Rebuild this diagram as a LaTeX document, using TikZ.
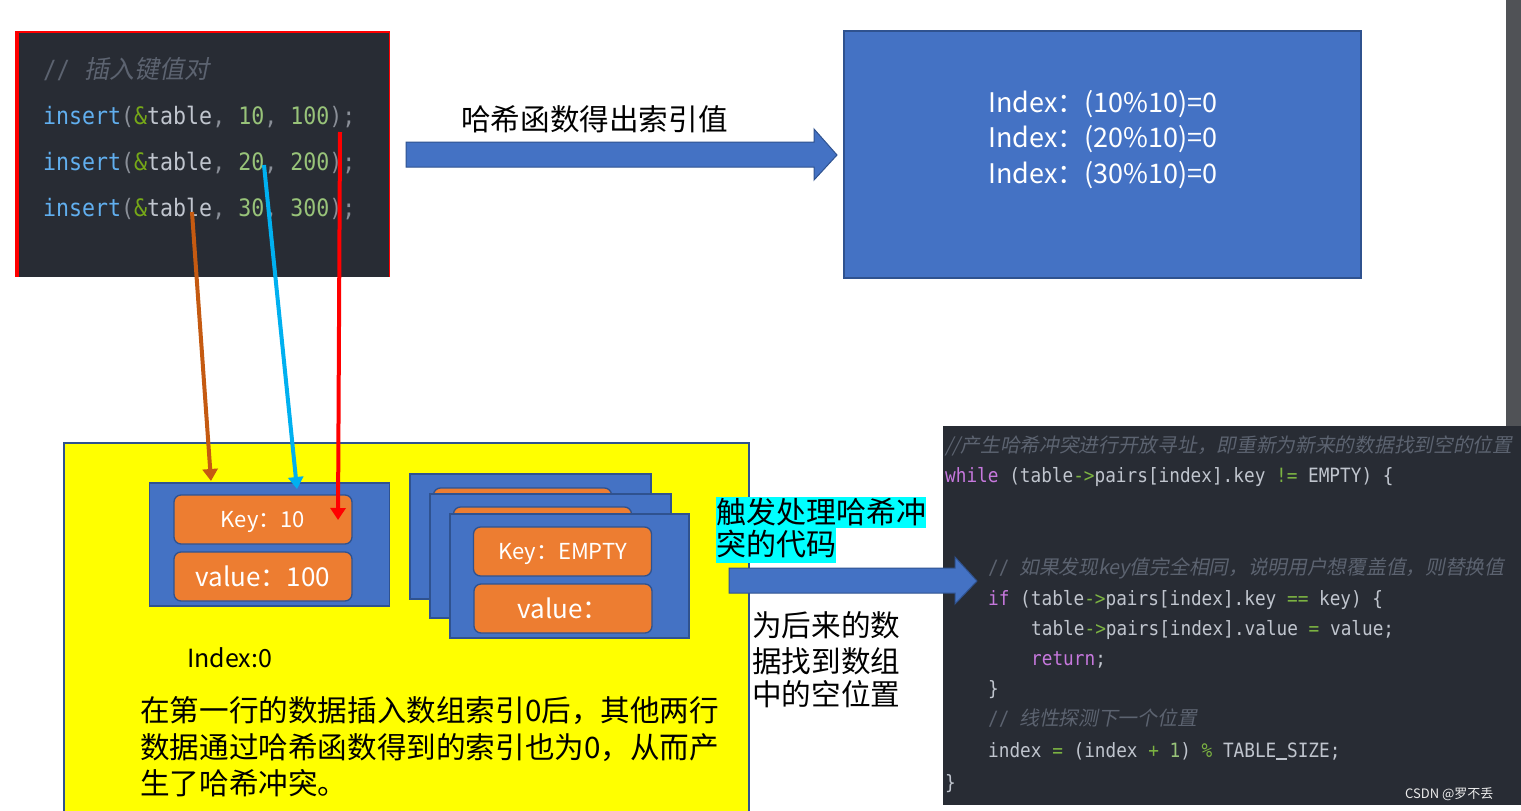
\documentclass[tikz,border=0pt]{standalone}
\usepackage{fontspec}
\setmainfont{Noto Sans CJK SC}
\newfontfamily\cjkit[FakeSlant=0.2]{Noto Sans CJK SC}
\newfontfamily\codemono[FakeStretch=0.9]{DejaVu Sans Mono}
\usetikzlibrary{arrows.meta}

\definecolor{boxblue}{HTML}{4472C4}
\definecolor{boxedge}{HTML}{2F528F}
\definecolor{cellorange}{HTML}{ED7D31}
\definecolor{codebg}{HTML}{282C34}
\definecolor{codecmt}{HTML}{5C6370}
\definecolor{codefn}{HTML}{61AFEF}
\definecolor{codetxt}{HTML}{C0C5CE}
\definecolor{codepun}{HTML}{8A8F98}
\definecolor{codenum}{HTML}{98C379}
\definecolor{codeamp}{HTML}{76A818}
\definecolor{codekw}{HTML}{C678DD}
\definecolor{codeop}{HTML}{7CB342}
\definecolor{arrorange}{HTML}{C55A11}
\definecolor{arrcyan}{HTML}{00B0F0}
\definecolor{scrollgray}{HTML}{505256}
\definecolor{padyellow}{HTML}{FFFF00}
\definecolor{markcyan}{HTML}{00FFFF}

\newcommand{\hcfn}[1]{\textcolor{codefn}{#1}}
\newcommand{\hcpun}[1]{\textcolor{codepun}{#1}}
\newcommand{\hcamp}[1]{\textcolor{codeamp}{#1}}
\newcommand{\hctxt}[1]{\textcolor{codetxt}{#1}}
\newcommand{\hcnum}[1]{\textcolor{codenum}{#1}}
\newcommand{\hckw}[1]{\textcolor{codekw}{#1}}
\newcommand{\hcop}[1]{\textcolor{codeop}{#1}}
\newcommand{\hcus}{\rule[-0.14em]{0.542em}{0.08em}}

\begin{document}
\begin{tikzpicture}[x=1pt, y=-1pt,
  txt/.style={inner sep=0pt, anchor=base west},
  blk/.style={fill=boxblue, draw=boxedge, line width=1.3pt, inner sep=0pt},
  cell/.style={fill=cellorange, draw=boxedge, line width=1.3pt, rounded corners=7pt,
    minimum width=178pt, minimum height=49pt, inner sep=0pt, text=white, text depth=0pt},
  keycell/.style={cell, font=\fontsize{22}{26}\selectfont, text height=16pt},
  valcell/.style={cell, font=\fontsize{26}{30}\selectfont, text height=19pt},
  fat/.style={fill=boxblue, draw=boxedge, line width=1pt},
  lnk/.style={line width=4pt, -{Triangle[length=12pt, width=15pt]}},
  topcode/.style={txt, font=\codemono\fontsize{24}{28}\selectfont},
  botcode/.style={txt, font=\codemono\fontsize{19.7}{24}\selectfont},
  cmt/.style={txt, text=codecmt, font=\cjkit\fontsize{19.7}{24}\selectfont},
  big/.style={txt, font=\fontsize{29.6}{36}\selectfont},
  idx/.style={inner sep=0pt, anchor=base, text=white, font=\fontsize{27}{32}\selectfont},
  hilite/.style={txt, fill=markcyan, inner xsep=0pt, font=\fontsize{30}{36}\selectfont}]

  \useasboundingbox (0,0) rectangle (1521,811);
  \fill[white] (0,0) rectangle (1521,811);
  \fill[scrollgray] (1506,0) rectangle (1521,426);

  % code that inserts the pairs
  \fill[codebg] (15,32) rectangle (390,277);
  \fill[red] (15,32) rectangle (19,277);
  \draw[red, line width=2pt] (15,32) -- (390,32);
  \draw[red, line width=1pt] (389.5,32) -- (389.5,277);
  \node[txt, text=codecmt, font=\cjkit\fontsize{25}{30}\selectfont] (inscmt) at (43,78) {{\codemono //}\hspace{0.55em}插入键值对};
  \node[topcode] (ins1) at (43,124) {\hcfn{insert}\hcpun{(}\hcamp{\&}\hctxt{table}\hcpun{, }\hcnum{10}\hcpun{, }\hcnum{100}\hcpun{);}};
  \node[topcode] (ins2) at (43,170) {\hcfn{insert}\hcpun{(}\hcamp{\&}\hctxt{table}\hcpun{, }\hcnum{20}\hcpun{, }\hcnum{200}\hcpun{);}};
  \node[topcode] (ins3) at (43,216) {\hcfn{insert}\hcpun{(}\hcamp{\&}\hctxt{table}\hcpun{, }\hcnum{30}\hcpun{, }\hcnum{300}\hcpun{);}};

  % hash function arrow and results
  \node[big] (hashlbl) at (461,130) {哈希函数得出索引值};
  \draw[fat] (406,142) -- (814,142) -- (814,129) -- (837,155) -- (814,180) -- (814,167) -- (406,167) -- cycle;
  \node[blk, minimum width=517pt, minimum height=247pt] (results) at (1102.5,154.5) {};
  \node[idx] (res1) at (1103,112) {Index：(10\%10)=0};
  \node[idx] (res2) at (1103,147.5) {Index：(20\%10)=0};
  \node[idx] (res3) at (1103,183) {Index：(30\%10)=0};

  % the array
  \draw[fill=padyellow, draw=boxedge, line width=1.2pt] (64,443) rectangle (749,820);
  \node[blk, minimum width=240pt, minimum height=123pt] (slot0) at (269.5,544.5) {};
  \node[keycell] (key10) at (263,519.5) {Key：10};
  \node[valcell] (val100) at (263,576.5) {value：100};

  \node[blk, minimum width=241pt, minimum height=125pt] (back) at (530.5,536.5) {};
  \node[cell] (backkey) at (522.5,512.5) {};
  \node[blk, minimum width=241pt, minimum height=124pt] (mid) at (550.5,556) {};
  \node[cell] (midkey) at (542.5,531.5) {};
  \node[blk, minimum width=239pt, minimum height=124pt] (front) at (569.5,576) {};
  \node[keycell] (keyempty) at (562.5,551.5) {Key：EMPTY};
  \node[valcell] (valempty) at (563,608.5) {value：};

  \node[txt, font=\fontsize{25}{30}\selectfont] (idx0) at (187,667) {Index:0};
  \node[big] (note1) at (140,721.5) {在第一行的数据插入数组索引0后，其他两行};
  \node[big] (note2) at (140,758.5) {数据通过哈希函数得到的索引也为0，从而产};
  \node[big] (note3) at (140,794.5) {生了哈希冲突。};

  % keys and values go into slot 0
  \coordinate (from30) at (192,212);
  \coordinate (from20) at (264,165);
  \coordinate (from100) at (340,132);
  \coordinate (to30) at (211,481);
  \coordinate (to20) at (297,489);
  \coordinate (to100) at (338,520);
  \draw[lnk, arrorange] (from30) -- (to30);
  \draw[lnk, arrcyan] (from20) -- (to20);
  \draw[lnk, red] (from100) -- (to100);

  % probing code
  \fill[codebg] (943,426) rectangle (1521,805);
  \node[cmt] (probecmt) at (945,452.5) {//产生哈希冲突进行开放寻址，即重新为新来的数据找到空的位置};
  \node[botcode] (cwhile) at (945,482) {\hckw{while} \hctxt{(table}\hcop{->}\hctxt{pairs[index].key} \hcop{!=} \hctxt{EMPTY) \{}};
  \node[cmt] (samecmt) at (988,574.5) {{\codemono //}\hspace{0.5em}如果发现key值完全相同，说明用户想覆盖值，则替换值};
  \node[botcode] (cif) at (988,605) {\hckw{if} \hctxt{(table}\hcop{->}\hctxt{pairs[index].key} \hcop{==} \hctxt{key) \{}};
  \node[botcode] (cset) at (1031,635) {\hctxt{table}\hcop{->}\hctxt{pairs[index].value} \hcop{=} \hctxt{value;}};
  \node[botcode] (cret) at (1031,665) {\hckw{return}\hctxt{;}};
  \node[botcode] (cend1) at (988,695) {\hctxt{\}}};
  \node[cmt] (nextcmt) at (988,725.5) {{\codemono //}\hspace{0.5em}线性探测下一个位置};
  \node[botcode] (cstep) at (988,757) {\hctxt{index} \hcop{=} \hctxt{(index} \hcop{+} \hcnum{1}\hctxt{)} \hcop{\%} \hctxt{TABLE\hcus SIZE;}};
  \node[botcode] (cend2) at (945,789) {\hctxt{\}}};
  \node[txt, text=white!85!gray, font=\fontsize{13}{16}\selectfont] (mark) at (1405,798) {CSDN @罗不丢};

  % collision handling
  \node[hilite, text height=26pt, text depth=5pt] (trig1) at (716,523) {触发处理哈希冲};
  \node[hilite, text height=27pt, text depth=8pt] (trig2) at (716,555) {突的代码};
  \draw[fat] (729,568) -- (955,568) -- (955,557) -- (977,581) -- (955,604) -- (955,593) -- (729,593) -- cycle;
  \node[big] (why1) at (752,636) {为后来的数};
  \node[big] (why2) at (752,672) {据找到数组};
  \node[big] (why3) at (752,705) {中的空位置};
\end{tikzpicture}
\end{document}
